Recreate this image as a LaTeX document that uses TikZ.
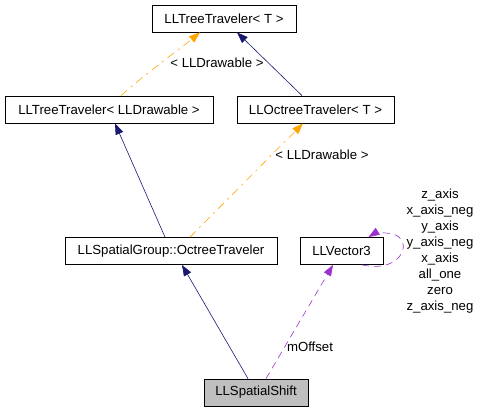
\documentclass[tikz,border=0pt]{standalone}
\usepackage{fontspec}
\setmainfont{Liberation Sans}
\usetikzlibrary{arrows.meta}
\definecolor{navyc}{HTML}{191970}
\definecolor{orangec}{HTML}{FFA500}
\definecolor{purplec}{HTML}{9A32CD}
\definecolor{grayfill}{HTML}{BFBFBF}
\begin{document}
\begin{tikzpicture}[x=1pt,y=-1pt,
  font=\fontsize{13.2}{16}\selectfont,
  cls/.style={draw=black,line width=0.8pt,inner sep=0pt,minimum height=27pt,anchor=center},
  inherit/.style={draw=navyc,line width=0.6pt,-{Triangle[length=11pt,width=8pt,fill=navyc]}},
  templ/.style={draw=orangec,line width=0.6pt,dash pattern=on 8pt off 5pt on 2pt off 5pt,-{Triangle[length=11pt,width=8pt,fill=orangec]}},
  usage/.style={draw=purplec,line width=0.6pt,dash pattern=on 7pt off 5pt,-{Triangle[length=11pt,width=8pt,fill=purplec]}},
  lbl/.style={inner sep=0pt,text=black}]
\useasboundingbox (0,0) rectangle (481,411);
\node[cls,minimum width=144pt] (tt) at (224,18.5) {LLTreeTraveler< T >};
\node[cls,minimum width=208pt] (ttd) at (109,109.5) {LLTreeTraveler< LLDrawable >};
\node[cls,minimum width=157pt] (oct) at (315.5,109.5) {LLOctreeTraveler< T >};
\node[cls,minimum width=212pt] (llsg) at (171,251) {LLSpatialGroup::OctreeTraveler};
\node[cls,minimum width=83pt] (llv) at (341.5,251) {LLVector3};
\node[cls,minimum width=104pt,fill=grayfill] (llss) at (256,392.5) {LLSpatialShift};
% edges
\draw[templ] ([xshift=12pt]ttd.north) .. controls (150,70) and (185,45) .. ([xshift=-24pt]tt.south);
\node[lbl] (l1) at (217,63) {< LLDrawable >};
\draw[inherit] ([xshift=-13.5pt]oct.north) -- ([xshift=13pt]tt.south);
\draw[inherit] ([xshift=-6pt]llsg.north) -- ([xshift=6pt]ttd.south);
\draw[templ] ([xshift=19pt]llsg.north) -- ([xshift=-12.5pt]oct.south);
\node[lbl] (l2) at (322,155) {< LLDrawable >};
\draw[inherit] ([xshift=-8pt]llss.north) -- ([xshift=11pt]llsg.south);
\draw[usage] ([xshift=10pt]llss.north) -- ([xshift=-8.5pt]llv.south);
\node[lbl] (l3) at (310,347) {mOffset};
\draw[usage] ([xshift=20.5pt]llv.south) .. controls (404,274) and (414,238) .. (392,234) .. controls (383,232) and (375,233) .. ([xshift=27pt]llv.north);
\node[lbl,align=center] (l4) at (440,251) {z\_axis\\x\_axis\_neg\\y\_axis\\y\_axis\_neg\\x\_axis\\all\_one\\zero\\z\_axis\_neg};
\end{tikzpicture}
\end{document}
